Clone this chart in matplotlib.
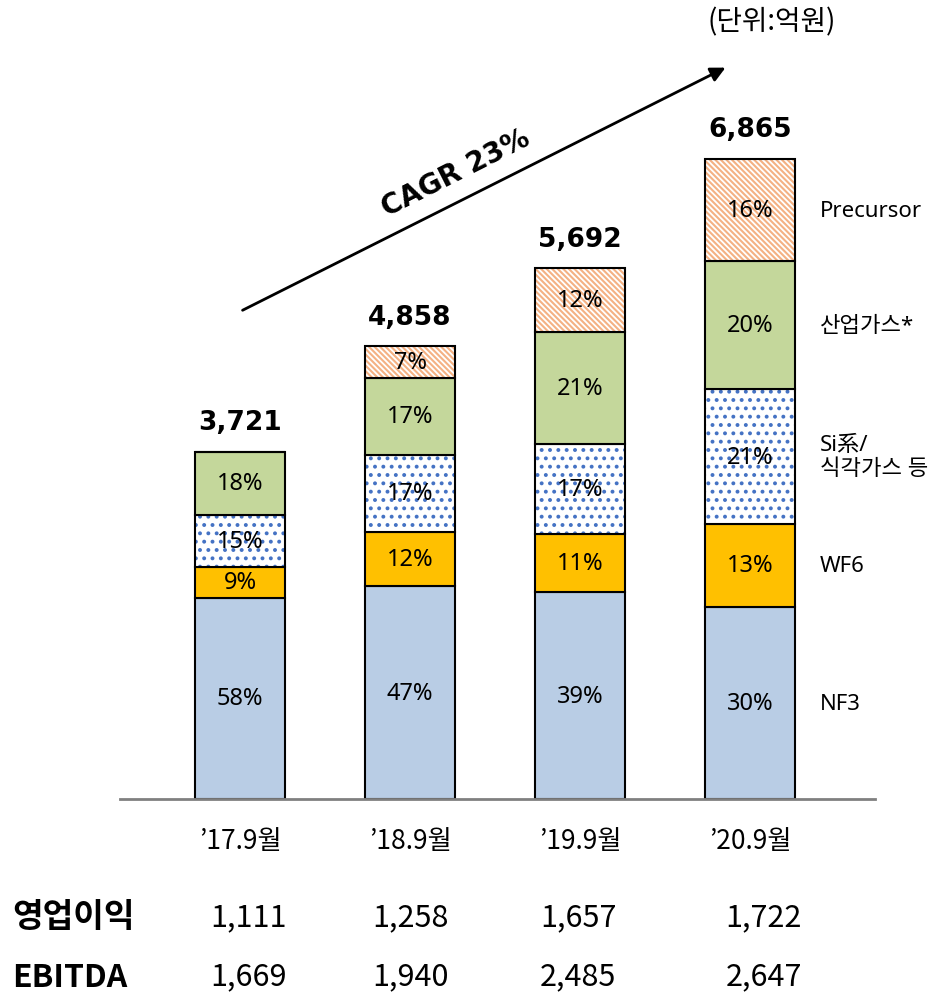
import matplotlib
matplotlib.use("Agg")
import matplotlib.pyplot as plt
import numpy as np

plt.rcParams['font.family'] = ['Noto Sans', 'Noto Sans CJK KR', 'DejaVu Sans']

# data
periods = ["’17.9월", "’18.9월", "’19.9월", "’20.9월"]
totals = [3721, 4858, 5692, 6865]
segments = ["NF3", "WF6", "Si系/\n식각가스 등", "산업가스*", "Precursor"]
nf3 = [58, 47, 39, 30]
wf6 = [9, 12, 11, 13]
si_etch = [15, 17, 17, 21]
ind_gas = [18, 17, 21, 20]
precursor = [0, 7, 12, 16]
op_profit = ["1,111", "1,258", "1,657", "1,722"]
ebitda = ["1,669", "1,940", "2,485", "2,647"]

shares = [nf3, wf6, si_etch, ind_gas, precursor]
fills = ["#B9CDE5", "#FFC000", "white", "#C4D79B", "white"]
hatches = [None, None, "..", None, "\\\\\\\\\\\\"]
hatch_cols = [None, None, "#4472C4", None, "#F4B183"]
hatch_lw = [1, 1, 1.6, 1, 1.5]

fig = plt.figure(figsize=(9.49, 9.95), dpi=100)
ax = fig.add_axes([0.1265, 0.196, 0.7956, 0.7035])
x = np.arange(len(periods))
w = 0.53

bottom = np.zeros(len(periods))
for i, sh in enumerate(shares):
    h = np.array(totals) * np.array(sh) / 100.0
    if hatches[i]:
        with plt.rc_context({'hatch.linewidth': hatch_lw[i]}):
            ax.bar(x, h, w, bottom=bottom, color=fills[i], edgecolor=hatch_cols[i],
                   hatch=hatches[i], linewidth=0)
        ax.bar(x, h, w, bottom=bottom, fill=False, edgecolor="black", linewidth=1.5)
    else:
        ax.bar(x, h, w, bottom=bottom, color=fills[i], edgecolor="black", linewidth=1.5)
    for j in range(len(periods)):
        if sh[j] > 0:
            ax.text(x[j], bottom[j] + h[j] / 2, f"{sh[j]}%", ha="center", va="center",
                    fontsize=17)
    # segment name to the right of the last bar
    ax.text(3.41, bottom[-1] + h[-1] / 2, segments[i], ha="left", va="center",
            fontsize=16, linespacing=1.2)
    bottom = bottom + h

for j in range(len(periods)):
    ax.annotate(f"{totals[j]:,}", (x[j], totals[j]), xytext=(0, 12),
                textcoords="offset points", ha="center", va="bottom",
                fontsize=19, fontweight="bold", family="DejaVu Sans")

# CAGR arrow
ax.annotate("", xy=(2.87, 7860), xytext=(0.0, 5230), annotation_clip=False,
            arrowprops=dict(arrowstyle="-|>", color="black", lw=2, mutation_scale=22))
ax.text(1.27, 6720, "CAGR 23%", rotation=26.8, ha="center", va="center",
        fontsize=20, fontweight="bold", rotation_mode="anchor", family="DejaVu Sans")

ax.set_xlim(-0.706, 3.735)
ax.set_ylim(0, 7510)
for s in ["top", "right", "left"]:
    ax.spines[s].set_visible(False)
ax.spines["bottom"].set_color("#808080")
ax.spines["bottom"].set_linewidth(2)
ax.set_yticks([])
ax.set_xticks(x)
ax.set_xticklabels(periods, fontsize=19, family=['Noto Sans CJK KR', 'DejaVu Sans'])
ax.tick_params(axis="x", length=0, pad=20)

# table rows under the chart
trans = ax.get_xaxis_transform()
nudge = [0.05, 0.0, -0.01, 0.08]
for j in range(len(periods)):
    ax.text(x[j] + nudge[j], -0.168, op_profit[j], transform=trans, ha="center",
            va="center", fontsize=22, clip_on=False, family="Noto Sans CJK KR")
    ax.text(x[j] + nudge[j], -0.253, ebitda[j], transform=trans, ha="center",
            va="center", fontsize=22, clip_on=False, family="Noto Sans CJK KR")
fig.text(12 / 949, 1 - 918 / 995, "영업이익", ha="left", va="center",
         fontsize=24, fontweight="bold", family="Noto Sans CJK KR")
fig.text(12 / 949, 1 - 978 / 995, "EBITDA", ha="left", va="center",
         fontsize=23, fontweight="bold", family="Noto Sans CJK KR")

fig.text(772 / 949, 1 - 22 / 995, "(단위:억원)", ha="center", va="center", fontsize=20,
         family="Noto Sans CJK KR")

fig.savefig("out.png", dpi=100)
